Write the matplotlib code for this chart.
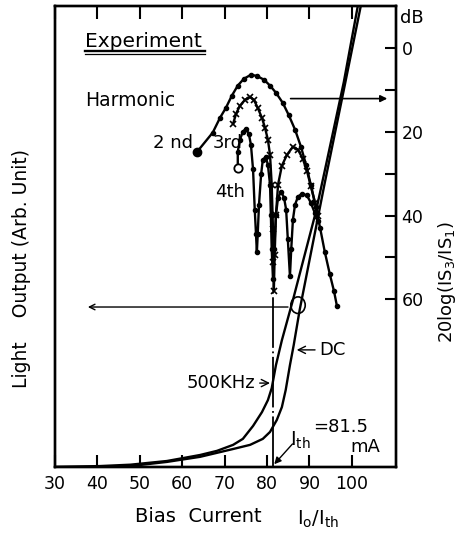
import matplotlib
matplotlib.use('Agg')
import matplotlib.pyplot as plt
from matplotlib.patches import Ellipse

# ---------------- data ----------------
x_ticks = [30, 40, 50, 60, 70, 80, 90, 100]
db_major = [0, 20, 40, 60]
db_minor = [10, 30, 50]

# 2nd harmonic (dB, right axis)
h2_x = [63.5, 67.2, 68.9, 70.3, 71.7, 73.1, 74.5, 76.2, 77.6, 79.3, 80.7, 82.1,
        83.7, 85.1, 86.6, 88.0, 89.2, 90.3, 91.5, 92.5, 93.6, 94.8, 95.8, 96.5]
h2_db = [24.8, 20.2, 16.7, 14.3, 11.4, 9.0, 7.4, 6.4, 6.7, 7.6, 9.0, 10.7,
         13.1, 16.0, 19.5, 23.6, 27.9, 32.6, 37.9, 42.9, 48.6, 54.0, 58.1, 61.7]

# 3rd harmonic
h3_x = [72.0, 72.7, 73.6, 74.8, 76.0, 76.9, 77.8, 78.8, 79.5, 80.2, 80.7, 81.1,
        81.4, 81.5, 81.6, 81.8, 82.1, 82.6, 83.5, 84.7, 86.1, 87.3, 88.4, 89.4,
        90.3, 91.3, 92.0]
h3_db = [18.1, 15.7, 13.8, 12.4, 11.7, 12.4, 14.3, 16.7, 19.0, 21.9, 25.5, 32.6,
         43.3, 51.0, 58.1, 49.3, 39.8, 32.6, 28.1, 25.5, 23.6, 24.3, 26.4, 29.3,
         32.9, 36.9, 40.0]

# 4th harmonic
h4_x = [73.1, 73.1, 73.6, 74.3, 75.0, 75.7, 76.2, 76.7, 77.1, 77.4, 77.6, 77.8,
        78.1, 78.6, 79.0, 79.7, 80.2, 80.7, 80.9, 81.1, 81.4, 81.7, 82.1, 82.6,
        83.3, 84.0, 84.5, 84.9, 85.4, 85.7, 86.1, 86.6, 87.3, 88.2, 89.4, 90.3,
        91.3, 92.0]
h4_db = [28.6, 24.8, 21.9, 20.0, 19.3, 20.5, 23.1, 29.0, 38.6, 44.5, 48.8, 44.5,
         37.4, 30.2, 26.7, 26.0, 27.9, 32.6, 39.8, 48.1, 55.2, 48.1, 39.8, 35.7,
         34.3, 35.7, 38.6, 45.7, 54.5, 48.1, 41.0, 37.4, 35.5, 34.8, 35.2, 36.9,
         39.5, 41.4]

# light output (arbitrary units, left axis)
dc_x = [30, 40.6, 47.8, 56.4, 64.2, 72.0, 76.0, 79.0, 80.7, 82.3, 83.5, 84.4,
        85.4, 86.3, 87.7, 91.5, 93.6, 98.1, 102.1]
dc_l = [0, 0, 0.2, 1.1, 2.2, 3.9, 4.8, 6.1, 7.6, 10.2, 13.0, 16.7,
        22.1, 26.5, 34.1, 51.8, 61.6, 81.8, 100]

ac_x = [30, 40.6, 47.8, 56.4, 64.2, 68.2, 72.0, 74.3, 76.7, 78.8, 80.2, 81.1,
        82.1, 83.5, 86.1, 91.5, 93.9, 98.1, 101.4]
ac_l = [0, 0.2, 0.5, 1.3, 2.6, 3.5, 4.8, 6.1, 8.9, 11.9, 14.5, 17.1,
        22.1, 27.5, 36.2, 55.3, 65.5, 83.5, 100]

i_th = 81.5

# ---------------- figure ----------------
fig = plt.figure(figsize=(4.64, 5.34), dpi=100)
ax = fig.add_axes([0.1185, 0.1255, 0.7349, 0.8633])
ax.set_xlim(30, 110.4)
ax.set_ylim(0, 100)
ax2 = ax.twinx()
ax2.set_ylim(100, -10)

for a in (ax, ax2):
    for s in a.spines.values():
        s.set_linewidth(1.7)

ax.set_xticks(x_ticks)
ax.tick_params(axis='x', direction='in', length=9, width=1.5, top=True,
               labelsize=12.5, pad=6)
ax.tick_params(axis='y', left=False, labelleft=False)
ax2.set_yticks(db_major)
ax2.set_yticks(db_minor, minor=True)
ax2.tick_params(axis='y', which='both', direction='in', length=8, width=1.5,
                labelsize=12.5, pad=4)

# light output curves
ax.plot(dc_x, dc_l, color='k', lw=1.7)
ax.plot(ac_x, ac_l, color='k', lw=1.7)

# threshold line
ax.plot([i_th, i_th], [0, 38], color='k', lw=1.3, linestyle=(0, (28, 2, 1, 2)))

# harmonics
ax2.plot(h2_x, h2_db, color='k', lw=1.7, marker='o', ms=3)
ax2.plot(h3_x, h3_db, color='k', lw=1.7, marker='x', ms=4, mew=1.2)
ax2.plot(h4_x, h4_db, color='k', lw=1.7, marker='o', ms=3)
ax2.plot([h2_x[0]], [h2_db[0]], 'o', color='k', ms=6)
ax2.plot([h4_x[0]], [h4_db[0]], 'o', mfc='white', mec='k', ms=6, mew=1.3)

# circle and arrows
ax.add_patch(Ellipse((87.3, 35.1), 3.4, 3.6, fill=False, lw=1.2, ec='k'))
ax.annotate('', xy=(37.1, 34.7), xytext=(85.6, 34.7),
            arrowprops=dict(arrowstyle='->', lw=1.0, color='k'))
ax2.annotate('', xy=(109.0, 12.1), xytext=(84.9, 12.1),
             arrowprops=dict(arrowstyle='-|>', lw=1.2, color='k'))

# texts
ax.text(37.1, 92.2, 'Experiment', fontsize=14.5, va='center', ha='left')
ax.plot([37.1, 65.4], [90.2, 90.2], color='k', lw=1.7)
ax.plot([37.1, 65.4], [89.5, 89.5], color='k', lw=0.9)
ax.text(37.1, 79.6, 'Harmonic', fontsize=13.5, va='center', ha='left')
ax.text(62.6, 70.3, '2 nd', fontsize=13, va='center', ha='right')
ax.text(67.2, 70.3, '3rd', fontsize=13, va='center', ha='left')
ax.text(67.7, 59.7, '4th', fontsize=13, va='center', ha='left')
ax.annotate('DC', xy=(87.0, 25.4), xytext=(92.3, 25.4), fontsize=13,
            va='center', ha='left',
            arrowprops=dict(arrowstyle='->', lw=1.0, color='k', shrinkA=1, shrinkB=0))
ax.annotate('500KHz', xy=(80.7, 18.2), xytext=(61.1, 18.2), fontsize=13,
            va='center', ha='left',
            arrowprops=dict(arrowstyle='->', lw=1.0, color='k', shrinkA=1, shrinkB=0))
ax.annotate('', xy=(81.7, 0.6), xytext=(86.0, 5.0),
            arrowprops=dict(arrowstyle='-|>', lw=1.0, color='k', shrinkA=0, shrinkB=0))
ax.text(85.4, 5.8, r'I$_{\mathrm{th}}$', fontsize=14, va='center', ha='left')
ax.text(90.8, 8.6, '=81.5', fontsize=13, va='center', ha='left')
ax.text(99.6, 4.3, 'mA', fontsize=13, va='center', ha='left')

fig.text(400 / 464, 1 - 18 / 534, 'dB', fontsize=13, ha='left', va='center')
fig.text(22 / 464, 1 - 269 / 534, 'Light    Output (Arb. Unit)', fontsize=13.5,
         rotation=90, ha='center', va='center')
fig.text(447 / 464, 1 - 282 / 534, r'20log(IS$_3$/IS$_1$)', fontsize=13,
         rotation=90, ha='center', va='center')
fig.text(135 / 464, 1 - 517 / 534, 'Bias  Current', fontsize=14, ha='left', va='center')
fig.text(297 / 464, 1 - 519 / 534, r'I$_{\mathrm{o}}$/I$_{\mathrm{th}}$', fontsize=14,
         ha='left', va='center')

fig.savefig('out.png', dpi=100)
